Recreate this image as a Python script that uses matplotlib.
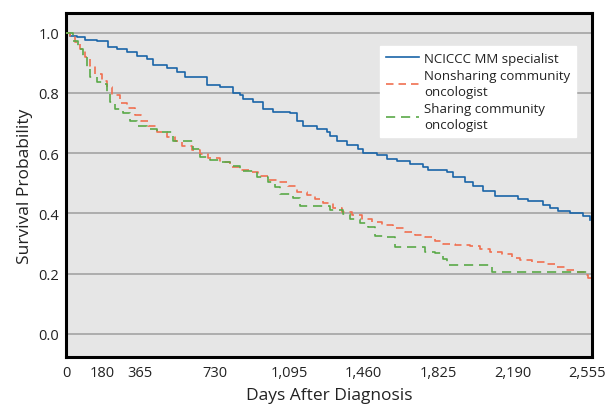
import matplotlib
matplotlib.use("Agg")
import matplotlib.pyplot as plt

plt.rcParams['font.family'] = ['Open Sans', 'DejaVu Sans']

# Kaplan-Meier step data (days, survival after step)
blue_days = [0, 20, 54, 93, 152, 206, 250, 299, 348, 397, 427, 495, 544, 584, 642, 691,
             755, 819, 853, 868, 917, 966, 1015, 1098, 1133, 1162, 1231, 1280, 1295, 1329,
             1378, 1432, 1456, 1525, 1574, 1623, 1687, 1751, 1775, 1868, 1898, 1957, 1996,
             2045, 2104, 2217, 2266, 2339, 2374, 2413, 2472, 2536, 2570]
blue_surv = [1.0, 0.99, 0.984, 0.976, 0.971, 0.953, 0.945, 0.934, 0.923, 0.912, 0.893, 0.882,
             0.869, 0.853, 0.851, 0.826, 0.818, 0.801, 0.793, 0.779, 0.769, 0.746, 0.736,
             0.733, 0.708, 0.691, 0.680, 0.669, 0.658, 0.641, 0.628, 0.614, 0.600, 0.594,
             0.580, 0.575, 0.564, 0.553, 0.545, 0.536, 0.520, 0.503, 0.490, 0.475, 0.459,
             0.448, 0.442, 0.428, 0.417, 0.409, 0.400, 0.390, 0.379]

red_days = [0, 20, 44, 69, 93, 118, 142, 177, 201, 226, 265, 299, 338, 368, 402, 446, 495,
            535, 569, 618, 657, 696, 755, 804, 853, 907, 942, 991, 1040, 1089, 1133, 1182,
            1221, 1260, 1309, 1354, 1403, 1452, 1501, 1550, 1604, 1662, 1711, 1761, 1810,
            1849, 1908, 1981, 2030, 2079, 2138, 2187, 2226, 2285, 2349, 2398, 2447, 2496,
            2545, 2560, 2575]
red_surv = [1.0, 0.99, 0.968, 0.945, 0.919, 0.890, 0.862, 0.840, 0.818, 0.794, 0.765, 0.750,
            0.727, 0.708, 0.691, 0.669, 0.654, 0.641, 0.625, 0.611, 0.597, 0.583, 0.569,
            0.553, 0.544, 0.538, 0.525, 0.512, 0.503, 0.490, 0.472, 0.461, 0.448, 0.434,
            0.419, 0.406, 0.395, 0.381, 0.370, 0.362, 0.351, 0.339, 0.328, 0.323, 0.309,
            0.299, 0.295, 0.291, 0.282, 0.273, 0.265, 0.252, 0.246, 0.240, 0.232, 0.221,
            0.213, 0.205, 0.196, 0.185, 0.185]

green_days = [0, 34, 59, 83, 103, 118, 152, 191, 201, 216, 240, 280, 314, 348, 397, 446, 525,
              623, 657, 706, 755, 804, 853, 937, 991, 1025, 1049, 1113, 1148, 1295, 1358,
              1393, 1442, 1481, 1516, 1564, 1613, 1761, 1810, 1849, 1868, 2089, 2580]
green_surv = [1.0, 0.973, 0.945, 0.918, 0.885, 0.851, 0.835, 0.829, 0.802, 0.768, 0.746,
              0.732, 0.708, 0.691, 0.680, 0.669, 0.639, 0.614, 0.586, 0.578, 0.569, 0.558,
              0.541, 0.520, 0.504, 0.487, 0.464, 0.450, 0.426, 0.412, 0.398, 0.381, 0.368,
              0.354, 0.326, 0.323, 0.289, 0.271, 0.268, 0.249, 0.229, 0.207, 0.207]

series_labels = ["NCICCC MM specialist", "Nonsharing community\noncologist",
                 "Sharing community\noncologist"]
x_ticks = [0, 180, 365, 730, 1095, 1460, 1825, 2190, 2555]
x_ticklabels = ["0", "180", "365", "730", "1,095", "1,460", "1,825", "2,190", "2,555"]
y_ticks = [0.0, 0.2, 0.4, 0.6, 0.8, 1.0]
y_ticklabels = ["0.0", "0.2", "0.4", "0.6", "0.8", "1.0"]

fig = plt.figure(figsize=(6.08, 4.06), dpi=100)
ax = fig.add_axes([66/608, 1-358/406, (592-66)/608, (358-14)/406])
ax.set_facecolor('#e6e6e6')

txt = '#222222'
ax.step(blue_days, blue_surv, where='post', color='#1a65a8', lw=1.2,
        label=series_labels[0], zorder=3)
ax.step(red_days, red_surv, where='post', color='#f07050', lw=1.2,
        dashes=(4.5, 3), label=series_labels[1], zorder=3)
ax.step(green_days, green_surv, where='post', color='#5aa948', lw=1.2,
        dashes=(5.5, 3.5), label=series_labels[2], zorder=3)

ax.set_xlim(0, 2580)
ax.set_ylim(-0.0763, 1.0647)
ax.set_xticks(x_ticks)
ax.set_xticklabels(x_ticklabels)
ax.set_yticks(y_ticks)
ax.set_yticklabels(y_ticklabels)
ax.tick_params(axis='both', length=0, labelsize=10.5, colors=txt)
ax.tick_params(axis='x', pad=6)
ax.tick_params(axis='y', pad=5)
ax.yaxis.grid(True, color='#a8a8a8', lw=1.3)
ax.set_axisbelow(True)
for s in ax.spines.values():
    s.set_color('black')
    s.set_linewidth(2.2)

ax.set_xlabel('Days After Diagnosis', fontsize=12.5, color=txt, labelpad=5)
ax.set_ylabel('Survival Probability', fontsize=12.5, color=txt, labelpad=4)

leg = ax.legend(loc='upper left', bbox_to_anchor=(0.597, 0.904), borderaxespad=0,
                fontsize=9.5, frameon=True, fancybox=False, handlelength=2.5,
                handletextpad=0.4, borderpad=0.45, labelspacing=0.3)
leg.get_frame().set_facecolor('white')
leg.get_frame().set_edgecolor('white')
leg.get_frame().set_alpha(1)
for t in leg.get_texts():
    t.set_color(txt)
    t.set_linespacing(1.3)

fig.savefig('out.png', dpi=100)
